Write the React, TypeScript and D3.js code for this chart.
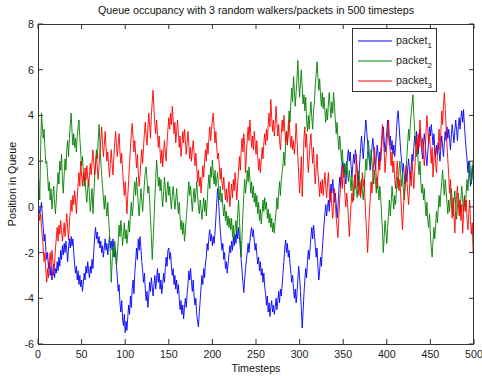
import React from "react";
import * as d3 from "d3";

const title = "Queue occupancy with 3 random walkers/packets in 500 timesteps";
const xLabel = "Timesteps";
const yLabel = "Position in Queue";
const xTicks = [0, 50, 100, 150, 200, 250, 300, 350, 400, 450, 500];
const yTicks = [-6, -4, -2, 0, 2, 4, 6, 8];
const seriesNames = ["packet", "packet", "packet"];
const seriesSubs = ["1", "2", "3"];
const seriesColors = ["#0000ff", "#008000", "#ff0000"];

const packet1 = [
  0, -0.3, -0.1, 0.2, -0.4, -0.9, -1.5, -1.2, -1.9, -2.3,
  -2.0, -2.7, -2.4, -3.0, -2.6, -3.2, -2.8, -2.5, -3.1, -2.7,
  -2.9, -2.4, -2.8, -2.2, -2.6, -1.9, -2.3, -1.7, -2.1, -1.6,
  -2.0, -1.5, -1.9, -2.4, -1.8, -1.4, -1.8, -1.3, -1.7, -1.4,
  -2.0, -2.5, -2.9, -2.6, -3.2, -2.8, -3.4, -3.0, -3.5, -3.2,
  -3.7, -3.3, -2.9, -3.2, -2.6, -2.9, -2.4, -2.8, -3.1, -2.6,
  -2.9, -2.3, -2.7, -1.9, -1.3, -0.9, -1.4, -1.1, -1.6, -1.3,
  -1.8, -1.5, -2.0, -1.7, -2.2, -1.8, -1.4, -1.9, -1.6, -2.1,
  -1.7, -1.3, -1.8, -1.5, -1.9, -1.4, -1.8, -2.2, -1.9, -2.6,
  -3.1, -3.7, -3.4, -4.2, -4.6, -4.1, -4.9, -5.2, -4.7, -5.5,
  -5.0, -5.4, -4.8, -4.3, -4.7, -3.9, -4.4, -3.6, -3.2, -3.8,
  -2.9, -2.4, -1.8, -2.3, -1.4, -1.9, -1.3, -1.8, -2.4, -2.8,
  -3.3, -2.9, -3.6, -4.1, -3.7, -4.4, -3.9, -3.3, -3.7, -3.1,
  -3.5, -3.9, -3.4, -3.0, -3.6, -3.2, -2.7, -3.3, -2.9, -3.6,
  -3.2, -3.8, -3.4, -2.9, -3.3, -2.7, -2.2, -2.6, -1.9, -1.8,
  -2.3, -2.0, -2.6, -3.0, -2.7, -3.4, -3.0, -3.6, -3.2, -3.8,
  -3.4, -4.0, -4.5, -4.1, -4.7, -4.3, -4.9, -4.4, -4.0, -4.4,
  -3.8, -3.4, -2.8, -3.2, -2.7, -3.3, -3.7, -3.2, -3.9, -4.3,
  -4.0, -4.7, -5.0, -5.25, -4.6, -4.1, -3.5, -3.0, -3.4, -2.7,
  -3.1, -2.5, -2.2, -1.6, -1.9, -1.3, -1.0, -1.5, -1.2, -1.7,
  -1.3, -1.6, -1.1, -0.5, 0.2, 0.8, 0.3, -0.4, -1.0, -1.5,
  -1.9, -1.6, -2.3, -2.0, -2.7, -2.4, -2.9, -2.5, -2.1, -1.7,
  -2.0, -1.5, -1.9, -1.3, -1.7, -1.2, -1.6, -1.0, -1.4, -0.9,
  -1.3, -1.8, -2.3, -2.8, -3.3, -3.75, -3.2, -2.7, -2.3, -2.0,
  -1.6, -2.0, -1.5, -1.1, -0.9, -1.3, -1.0, -1.5, -1.9, -1.6,
  -2.1, -2.5, -2.2, -2.8, -2.4, -3.0, -2.7, -3.3, -2.9, -3.5,
  -3.8, -4.3, -3.9, -4.6, -4.2, -4.8, -4.4, -4.1, -4.6, -4.3,
  -4.7, -4.4, -4.0, -4.5, -4.1, -3.7, -4.2, -3.6, -3.9, -3.4,
  -2.9, -2.4, -1.8, -1.45, -2.0, -1.6, -2.2, -1.9, -2.5, -2.9,
  -3.3, -3.0, -3.6, -4.0, -3.6, -4.2, -3.8, -3.2, -2.6, -3.1,
  -3.7, -4.5, -5.3, -4.6, -3.8, -3.2, -2.7, -3.1, -2.4, -1.9,
  -2.3, -1.8, -1.3, -0.9, -1.4, -0.8, -1.2, -1.7, -2.2, -1.8,
  -2.6, -3.2, -2.8, -2.2, -2.6, -1.9, -1.3, -0.8, -0.3, 0.1,
  -0.4, 0.0, 0.3, -0.2, 0.5, 1.0, 0.6, 1.2, 0.7, 0.2,
  0.6, 0.1, -0.5, 0.0, 0.7, 1.3, 0.9, 1.6, 2.0, 1.5,
  1.9, 1.4, 1.0, 1.6, 2.2, 2.5, 2.0, 2.4, 1.8, 1.3,
  1.8, 2.3, 1.9, 2.5, 2.1, 1.5, 0.9, 1.4, 2.0, 2.6,
  3.1, 2.6, 2.1, 2.7, 3.3, 3.8, 3.3, 2.8, 2.3, 2.0,
  1.6, 2.1, 2.6, 3.0, 2.5, 2.0, 1.6, 2.2, 2.7, 2.3,
  1.8, 2.4, 2.0, 2.6, 3.2, 3.5, 2.9, 2.4, 2.8, 3.3,
  3.8, 3.2, 2.7, 3.1, 2.5, 2.9, 2.3, 2.7, 2.2, 2.6,
  3.3, 3.9, 4.2, 3.6, 3.0, 2.4, 2.0, 1.5, 1.9, 1.4,
  1.0, 1.5, 1.1, 1.7, 2.1, 1.6, 1.2, 1.8, 2.3, 2.0,
  2.6, 3.1, 2.7, 3.3, 2.8, 2.3, 2.9, 3.4, 3.0, 2.5,
  2.1, 2.7, 3.2, 2.8, 2.2, 1.8, 2.4, 2.9, 3.5, 3.1,
  3.6, 3.2, 2.7, 3.2, 2.6, 2.2, 2.7, 2.3, 2.8, 2.4,
  2.0, 2.6, 3.1, 2.6, 2.2, 2.8, 3.3, 2.9, 3.5, 3.0,
  3.4, 3.0, 2.5, 3.1, 3.6, 3.2, 2.8, 3.3, 3.8, 3.4,
  2.9, 3.5, 3.9, 3.4, 3.9, 4.2, 3.7, 4.25, 3.6, 3.0,
  2.5, 2.1, 1.5, 2.0, 1.4, 0.9, 1.3, 1.8, 1.2, 1.0,
];

const packet2 = [
  1.2, 0.3, 2.4, 4.1, 3.5, 3.0, 3.4, 2.5, 1.9, 2.0,
  1.4, 0.7, 1.1, 0.3, 0.8, -0.1, 0.4, 0.9, 0.2, -0.3,
  0.3, 0.9, 1.5, 1.0, 2.0, 1.6, 2.3, 1.2, 0.6, 1.4,
  2.1, 1.6, 2.5, 2.9, 2.2, 3.0, 3.6, 4.1, 3.3, 2.7,
  3.2, 2.6, 3.0, 2.4, 3.1, 3.5, 3.8, 3.0, 2.4, 1.8,
  2.2, 1.5, 0.9, 1.3, 0.6, 0.2, 0.8, 1.2, 0.5, -0.2,
  0.3, 0.8, -0.3, 0.5, 1.3, 1.9, 2.5, 2.1, 2.9, 3.6,
  2.8, 2.0, 1.4, 0.9, 0.4, -0.1, 0.5, 0.0, -0.4, 0.2,
  -0.5, -1.2, -2.1, -3.3, -2.4, -1.8, -2.2, -1.5, -2.0, -2.6,
  -2.1, -1.5, -0.8, -1.3, -0.6, -1.1, -1.7, -1.2, -0.7, -1.4,
  -1.0, -1.6, -1.2, -0.6, -1.1, -0.3, 0.2, -0.4, 0.0, 0.7,
  1.1, 0.5, 1.3, 0.7, 0.1, -0.4, 0.2, 0.8, 0.3, -0.2,
  0.4, 1.0, 1.5, 1.75, 1.2, 0.6, 0.9, 0.3, -0.5, -1.3,
  -2.3, -1.5, -0.6, 0.4, 1.2, 2.05, 1.5, 0.9, 1.3, 0.7,
  1.2, 0.5, 0.0, 0.6, 1.3, 0.8, 0.2, 0.7, 1.1, 0.5,
  0.9, 0.3, -0.1, 0.5, 0.9, 0.4, -0.1, 0.3, 0.8, 0.2,
  -0.3, 0.2, -0.5, -1.0, -0.6, -1.2, -0.7, -1.5, -1.1, -0.5,
  0.0, 0.6, 1.1, 0.5, 0.9, 0.3, -0.2, 0.4, 0.8, 0.2,
  0.6, 1.1, 0.5, 0.0, -0.3, 0.3, -0.1, -0.55, 0.0, 0.4,
  -0.2, 0.3, -0.4, 0.2, 0.9, 1.4, 0.8, 1.75, 1.3, 2.05,
  1.4, 1.0, 1.6, 0.9, 1.2, 1.5, 0.8, 0.3, 0.9, 0.2,
  0.6, 0.0, -0.4, 0.1, -0.6, -0.2, -0.8, -0.4, -0.9, -0.5,
  -1.0, -0.5, -1.3, -0.8, -1.45, -1.0, -0.6, -1.1, -0.4, 0.3,
  -0.5, -1.4, -2.2, -1.2, -0.3, 0.5, 1.2, 0.6, 1.0, 1.6,
  1.1, 1.75, 1.2, 0.6, 1.1, 0.4, 0.9, 0.2, 0.6, 0.0,
  0.5, -0.3, 0.2, -0.6, -0.1, -0.75, -0.3, 0.3, -0.2, 0.4,
  -0.1, 0.2, -0.5, -0.1, -0.7, -0.3, -0.9, -0.5, -1.1, -0.7,
  -1.15, -0.6, -0.2, 0.4, -0.1, 0.6, 1.1, 0.5, 1.2, 1.5,
  1.9, 2.4, 1.8, 2.8, 3.3, 2.7, 3.6, 4.2, 3.7, 4.6,
  5.2, 4.6, 5.7, 5.1, 4.4, 5.0, 5.6, 6.4, 5.4, 4.8,
  5.5, 6.0, 5.2, 4.5, 4.9, 4.2, 4.8, 3.8, 3.3, 4.0,
  3.4, 4.1, 4.6, 3.9, 3.4, 4.2, 4.6, 5.3, 5.8, 6.35,
  5.7, 5.1, 5.6, 4.9, 4.4, 5.0, 4.3, 4.8, 4.2, 3.7,
  4.3, 3.8, 4.5, 5.0, 4.4, 3.9, 4.6, 4.1, 5.0, 4.4,
  3.8, 3.2, 3.7, 3.0, 2.5, 3.1, 2.6, 2.0, 2.5, 1.8,
  1.3, 1.9, 1.4, 2.0, 1.5, 1.1, 1.6, 1.2, 0.7, 1.3,
  0.8, 0.3, 0.9, 1.4, 0.8, 0.4, 1.0, 1.6, 1.1, 0.6,
  1.2, 0.7, 0.3, 0.9, 1.5, 2.1, 1.6, 2.4, 2.9, 2.3,
  1.8, 2.5, 2.0, 1.5, 1.0, 1.6, 1.1, 0.6, 1.3, 0.8,
  0.3, 0.9, 0.4, -0.3, -1.0, -2.0, -1.3, -0.6, -1.1, -1.6,
  -0.9, -0.3, 0.3, -0.4, 0.2, 0.9, 0.4, -0.1, 0.5, 0.1,
  0.7, 1.3, 0.8, 1.6, 2.0, 1.4, 0.9, 1.5, 0.7, 0.3,
  0.8, 1.5, 2.2, 2.8, 3.4, 2.9, 3.6, 4.1, 4.5, 4.9,
  4.0, 3.3, 2.8, 2.2, 2.7, 1.9, 1.4, 2.0, 1.1, 0.6,
  1.0, 0.3, 0.8, 0.1, -0.4, 0.2, -0.6, -0.9, -0.3, -1.2,
  -1.8, -2.2, -1.5, -0.9, -1.4, -0.8, -0.2, -0.7, -0.1, 0.5,
  0.0, 0.6, 1.1, 1.6, 1.0, 0.5, 1.2, 0.7, 0.2, -0.3,
  0.3, -0.2, 0.4, 0.8, 0.2, -0.4, 0.2, 0.7, 0.1, -0.55,
  0.0, 0.6, 0.1, -0.3, 0.4, 0.9, 0.3, -0.2, 0.5, 0.0,
  0.6, 1.2, 0.7, 1.4, 2.0, 1.5, 1.0, 1.6, 2.0, 1.75,
];

const packet3 = [
  -0.2, -0.6, -0.3, -0.9, -1.3, -1.8, -2.4, -2.0, -2.8, -3.3,
  -2.7, -3.1, -2.4, -2.0, -2.6, -1.9, -2.3, -3.0, -2.5, -1.8,
  -1.4, -0.9, -1.5, -0.8, -1.2, -0.6, -1.0, -1.5, -1.1, -0.7,
  -1.3, -0.8, -0.3, -0.9, -1.45, -0.7, -0.2, 0.3, -0.2, 0.5,
  0.1, 0.7, 0.3, -0.3, 0.4, 1.0, 1.5, 0.9, 2.0, 1.4,
  0.9, 1.5, 1.1, 1.7, 1.2, 1.8, 1.3, 0.9, 1.4, 1.9,
  1.4, 2.0, 2.5, 1.9, 1.4, 1.8, 2.3, 1.7, 1.2, 1.8,
  2.4, 2.9, 3.5, 2.8, 2.2, 2.7, 3.3, 2.6, 2.0, 2.4,
  1.8, 1.3, 1.9, 2.5, 1.9, 1.4, 2.2, 2.8, 3.3, 2.7,
  2.2, 2.8, 3.2, 2.4, 1.9, 2.35, 1.6, 1.0, 0.5, 1.1,
  0.4, -0.3, 0.5, 1.2, 1.9, 2.6, 3.2, 3.65, 3.0, 2.4,
  2.9, 2.3, 1.7, 2.3, 1.5, 0.9, 1.4, 2.0, 2.5, 1.9,
  2.6, 3.2, 3.7, 3.1, 2.7, 3.4, 4.1, 3.6, 3.0, 4.0,
  4.6, 5.1, 4.3, 3.6, 3.2, 3.8, 3.2, 2.6, 3.1, 2.4,
  1.9, 2.5, 1.75, 2.3, 2.9, 2.4, 2.0, 2.8, 3.4, 3.9,
  3.4, 4.1, 3.6, 4.4, 3.8, 3.2, 3.7, 2.8, 3.3, 3.8,
  3.2, 2.6, 3.1, 2.2, 2.7, 3.3, 2.8, 3.4, 2.9, 2.3,
  2.8, 3.3, 2.7, 2.1, 2.6, 2.0, 2.5, 2.9, 2.3, 1.8,
  2.35, 1.7, 1.1, 1.6, 0.9, 1.3, 0.6, 1.2, 1.8, 1.3,
  1.9, 2.5, 2.0, 2.8, 2.3, 3.0, 3.5, 2.9, 3.4, 3.8,
  4.1, 3.4, 2.8, 3.3, 2.6, 2.1, 2.35, 1.7, 1.2, 1.7,
  1.0, 0.75, 1.3, 0.8, 0.3, 0.8, 0.2, 0.6, 1.1, 0.0,
  0.5, 1.0, 0.4, 1.2, 0.7, 1.5, 0.9, 0.3, 1.0, 1.6,
  2.2, 1.6, 2.5, 3.0, 2.4, 3.2, 2.7, 1.5, 2.3, 3.0,
  3.5, 2.9, 3.8, 3.2, 2.6, 3.1, 2.5, 3.3, 2.8, 2.3,
  2.9, 2.2, 1.6, 2.1, 1.5, 2.0, 2.6, 2.1, 2.8, 3.2,
  2.7, 3.4, 2.9, 3.6, 4.1, 3.5, 4.7, 3.9, 3.3, 3.8,
  3.1, 3.6, 4.4, 3.7, 3.1, 3.6, 2.9, 2.5, 3.2, 3.8,
  3.3, 4.0, 3.4, 2.8, 3.3, 2.7, 3.2, 3.8, 3.1, 2.6,
  3.1, 2.5, 2.9, 2.3, 2.8, 3.65, 3.0, 2.2, 1.4, 0.6,
  1.3, 2.2, 0.45, 1.5, 3.0, 3.5, 2.6, 3.2, 2.2, 1.5,
  2.1, 2.8, 3.2, 2.5, 1.9, 2.6, 1.6, 1.0, 1.7, 2.3,
  1.5, 1.0, 0.45, 1.1, 0.6, 1.2, 0.5, 1.0, 1.5, 0.9,
  0.4, 1.0, 1.5, 0.8, 0.2, 0.7, 0.0, -0.5, 0.2, 0.8,
  0.1, -0.5, -0.9, -1.35, -0.4, 0.3, 0.9, 1.5, 0.8, 1.8,
  1.2, 0.5, 0.0, 0.6, 0.2, -0.5, -1.3, -0.6, 0.1, 0.6,
  0.2, 0.9, 1.4, 0.8, 2.3, 1.6, 1.0, 0.5, 1.1, 0.4,
  0.9, 1.5, 0.9, 1.2, 0.3, -0.5, -1.2, -2.0, -1.1, -0.3,
  0.4, 1.1, 0.6, 1.3, 2.0, 2.6, 1.9, 1.3, 0.8, 1.5,
  2.1, 1.6, 2.4, 2.9, 3.6, 3.0, 2.4, 1.5, 2.1, 2.7,
  3.3, 3.8, 3.0, 2.4, 1.8, 2.4, 1.5, 2.0, 1.3, 0.8,
  1.4, 2.0, 1.3, 0.7, 1.2, 0.5, -0.3, -1.0, -0.2, 0.6,
  1.2, 1.8, 1.2, 0.6, 0.1, 0.8, 1.5, 0.9, 2.0, 1.4,
  0.8, 1.6, 2.3, 3.0, 2.4, 3.2, 2.6, 3.8, 3.1, 2.5,
  3.0, 2.3, 1.8, 2.4, 3.3, 4.0, 3.4, 2.8, 3.2, 2.5,
  1.9, 2.6, 1.3, 2.0, 2.6, 1.9, 1.5, 2.2, 2.8, 3.4,
  2.5, 3.3, 4.2, 3.6, 4.4, 5.0, 4.3, 3.5, 2.7, 2.05,
  1.4, 0.6, 1.2, 0.2, -0.5, 0.4, -0.3, -1.15, -0.2, 0.5,
  0.9, 0.2, -0.4, 0.3, -0.6, 0.1, -1.15, -0.3, 0.4, -0.2,
  0.3, -0.5, -1.0, -0.3, 0.3, -0.6, -1.2, -0.7, -2.0, -1.8,
];

const allSeries = [packet1, packet2, packet3];

const W = 482;
const H = 376;
const M = { left: 38, right: 8, top: 24, bottom: 32 };
const FONT = "'Liberation Sans', Arial, Helvetica, sans-serif";
const AX = "#333";
const FS = 10.7;

export default function App() {
  const x = d3.scaleLinear().domain([0, 500]).range([M.left, W - M.right]);
  const y = d3.scaleLinear().domain([-6, 8]).range([H - M.bottom, M.top]);
  const line = d3
    .line<number>()
    .x((_, i) => x(i + 1))
    .y((d) => y(d));
  const x0 = x(0), x1 = x(500), y0 = y(-6), y1 = y(8);
  const tl = 5;

  return (
    <div style={{ position: "absolute", left: 0, top: 0 }}>
      <svg width={W} height={H} style={{ display: "block", background: "#fff" }} fontFamily={FONT}>
        <defs>
          <clipPath id="plotclip">
            <rect x={x0} y={y1} width={x1 - x0} height={y0 - y1} />
          </clipPath>
        </defs>
        <rect x={0} y={0} width={W} height={H} fill="#fff" />
        <g clipPath="url(#plotclip)">
          {allSeries.map((s, k) => (
            <path key={k} d={line(s) || ""} fill="none" stroke={seriesColors[k]} strokeWidth={0.9} />
          ))}
        </g>
        <rect x={x0 + 0.5} y={y1 + 0.5} width={x1 - x0 - 1} height={y0 - y1} fill="none" stroke={AX} strokeWidth={1} />
        {xTicks.map((t) => (
          <g key={"x" + t}>
            <line x1={x(t)} x2={x(t)} y1={y0} y2={y0 - tl} stroke={AX} />
            <line x1={x(t)} x2={x(t)} y1={y1} y2={y1 + tl} stroke={AX} />
            <text x={x(t)} y={y0 + 14} textAnchor="middle" fontSize={FS} fill="#222">
              {t}
            </text>
          </g>
        ))}
        {yTicks.map((t) => (
          <g key={"y" + t}>
            <line x1={x0} x2={x0 + tl} y1={y(t)} y2={y(t)} stroke={AX} />
            <line x1={x1} x2={x1 - tl} y1={y(t)} y2={y(t)} stroke={AX} />
            <text x={x0 - 4} y={y(t) + 4} textAnchor="end" fontSize={FS} fill="#222">
              {t}
            </text>
          </g>
        ))}
        <text x={(x0 + x1) / 2} y={14} textAnchor="middle" fontSize={FS} fill="#111">
          {title}
        </text>
        <text x={(x0 + x1) / 2} y={H - 4} textAnchor="middle" fontSize={FS} fill="#111">
          {xLabel}
        </text>
        <text
          transform={`translate(16, ${(y0 + y1) / 2}) rotate(-90)`}
          textAnchor="middle"
          fontSize={FS}
          fill="#111"
        >
          {yLabel}
        </text>
        <g>
          <rect x={352.5} y={28.5} width={84} height={63} fill="#fff" stroke={AX} />
          {seriesNames.map((n, i) => (
            <g key={i}>
              <line x1={358} x2={392} y1={41 + i * 20} y2={41 + i * 20} stroke={seriesColors[i]} strokeWidth={1} />
              <text x={396} y={44 + i * 20} fontSize={FS} fill="#222">
                {n}
                <tspan fontSize={8} dy={4}>
                  {seriesSubs[i]}
                </tspan>
              </text>
            </g>
          ))}
        </g>
      </svg>
    </div>
  );
}
